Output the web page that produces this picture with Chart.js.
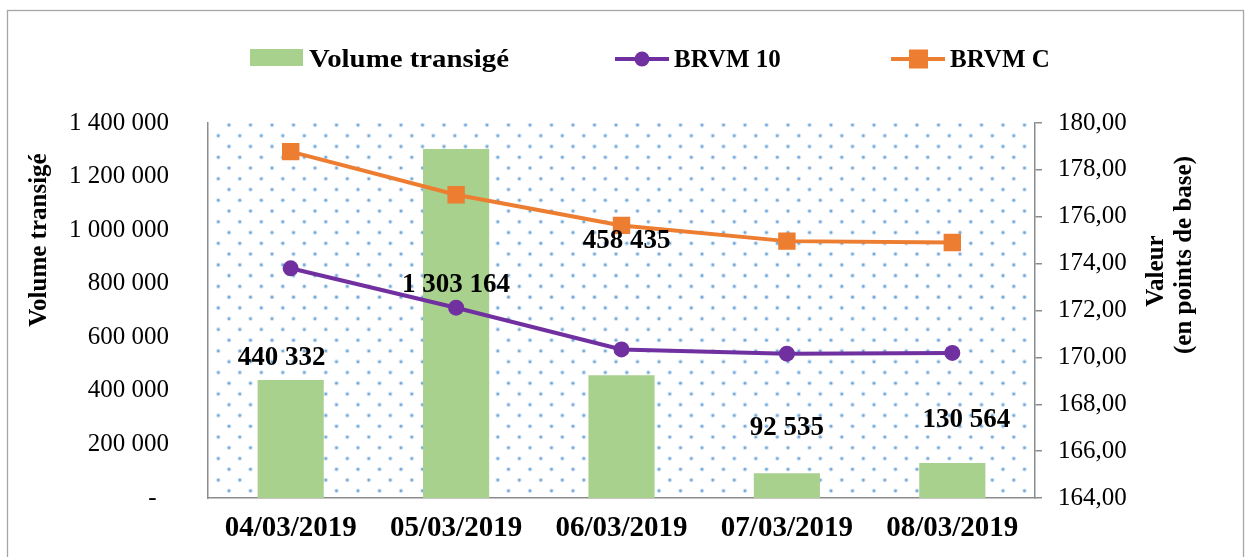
<!DOCTYPE html>
<html lang="fr">
<head>
  <meta charset="UTF-8" />
  <title>Volume transigé et indices BRVM</title>
  <script src="https://cdn.jsdelivr.net/npm/chart.js"></script>
  <style>
    body {
      margin: 0;
      background: #ffffff;
    }
    canvas {
      display: block;
    }
  </style>
</head>
<body>

  <canvas id="brvmChart" width="1245" height="557"></canvas>

  <script>
    // chart data
    const dates = ['04/03/2019', '05/03/2019', '06/03/2019', '07/03/2019', '08/03/2019'];
    const volume = [440332, 1303164, 458435, 92535, 130564];
    const brvm10 = [173.80, 172.12, 170.34, 170.16, 170.19];
    const brvmC = [178.78, 176.94, 175.63, 174.96, 174.90];

    const volumeMin = 0, volumeMax = 1400000, volumeStep = 200000;
    const indexMin = 164, indexMax = 180, indexStep = 2;

    const serif = "'Liberation Serif', 'Times New Roman', serif";
    const axisGrey = '#8c8c8c';

    function spaced(n) {
      return String(n).replace(/\B(?=(\d{3})+(?!\d))/g, ' ');
    }

    // dotted background of the plot area
    const dotsPlugin = {
      id: 'dots',
      beforeDatasetsDraw(chart) {
        const { ctx, chartArea: a } = chart;
        ctx.save();
        ctx.beginPath();
        ctx.rect(a.left, a.top, a.right - a.left, a.bottom - a.top);
        ctx.clip();
        const dy = 10.76, dx = 21.5;
        let row = 0;
        for (let y = a.top + 2; y < a.bottom; y += dy, row++) {
          const start = a.left + (row % 2 === 0 ? 21 : 10.3);
          for (let x = start; x < a.right; x += dx) {
            ctx.fillStyle = 'rgba(91,155,213,0.25)';
            ctx.beginPath();
            ctx.arc(x, y, 2.4, 0, Math.PI * 2);
            ctx.fill();
            ctx.fillStyle = 'rgba(91,155,213,0.8)';
            ctx.beginPath();
            ctx.arc(x, y, 1.3, 0, Math.PI * 2);
            ctx.fill();
          }
        }
        ctx.restore();
      }
    };

    // value labels of the volume bars (placed by hand in the original)
    const barLabelsPlugin = {
      id: 'barLabels',
      afterDatasetsDraw(chart) {
        const { ctx } = chart;
        const nudge = [[-9, -24], [0, 134], [5, -136], [0, -47], [14, -45]];
        const meta = chart.getDatasetMeta(0);
        ctx.save();
        ctx.font = 'bold 27px ' + serif;
        ctx.fillStyle = '#000';
        ctx.textAlign = 'center';
        ctx.textBaseline = 'alphabetic';
        meta.data.forEach((bar, i) => {
          const [ox, oy] = nudge[i];
          ctx.fillText(spaced(volume[i]), bar.x + ox, bar.y + oy + 9);
        });
        ctx.restore();
      }
    };

    // text stretched sideways to a given width (the original font is wider)
    function wideText(ctx, text, x, y, width) {
      const w = ctx.measureText(text).width;
      ctx.save();
      ctx.translate(x, y);
      ctx.scale(width / w, 1);
      ctx.fillText(text, 0, 0);
      ctx.restore();
    }

    // frame, legend and axis titles
    const decorPlugin = {
      id: 'decor',
      afterDraw(chart) {
        const { ctx } = chart;
        const ds = chart.data.datasets;
        ctx.save();

        ctx.strokeStyle = '#a6a6a6';
        ctx.lineWidth = 1.3;
        ctx.strokeRect(7.5, 10.5, 1236, 620);

        // legend
        ctx.font = 'bold 25px ' + serif;
        ctx.fillStyle = '#000';
        ctx.textBaseline = 'alphabetic';
        ctx.textAlign = 'left';
        const ly = 59;

        ctx.fillStyle = ds[0].backgroundColor;
        ctx.fillRect(250, 49, 53, 17);
        ctx.fillStyle = '#000';
        wideText(ctx, ds[0].label, 309, ly + 8, 200);

        ctx.strokeStyle = ds[1].borderColor;
        ctx.lineWidth = 4;
        ctx.beginPath();
        ctx.moveTo(615, ly);
        ctx.lineTo(669, ly);
        ctx.stroke();
        ctx.fillStyle = ds[1].borderColor;
        ctx.beginPath();
        ctx.arc(642, ly, 7.5, 0, Math.PI * 2);
        ctx.fill();
        ctx.fillStyle = '#000';
        ctx.fillText(ds[1].label, 674, ly + 8);

        ctx.strokeStyle = ds[2].borderColor;
        ctx.beginPath();
        ctx.moveTo(891, ly);
        ctx.lineTo(945, ly);
        ctx.stroke();
        ctx.fillStyle = ds[2].borderColor;
        ctx.fillRect(918.5 - 9.5, ly - 9.5, 19, 19);
        ctx.fillStyle = '#000';
        ctx.fillText(ds[2].label, 950, ly + 8);

        // axis titles
        ctx.textAlign = 'center';
        ctx.save();
        ctx.translate(46, 240);
        ctx.rotate(-Math.PI / 2);
        ctx.fillText('Volume transigé', 0, 0);
        ctx.restore();

        ctx.save();
        ctx.translate(1163, 271);
        ctx.rotate(-Math.PI / 2);
        ctx.fillText('Valeur', 0, 0);
        ctx.restore();

        ctx.save();
        ctx.translate(1191, 255);
        ctx.rotate(-Math.PI / 2);
        ctx.fillText('(en points de base)', 0, 0);
        ctx.restore();

        ctx.restore();
      }
    };

    const ctx = document.getElementById('brvmChart').getContext('2d');
    new Chart(ctx, {
      data: {
        labels: dates,
        datasets: [
          {
            type: 'bar',
            label: 'Volume transigé',
            data: volume,
            yAxisID: 'y',
            backgroundColor: '#a9d18e',
            barPercentage: 0.4,
            categoryPercentage: 1.0,
            order: 3
          },
          {
            type: 'line',
            label: 'BRVM 10',
            data: brvm10,
            yAxisID: 'y1',
            borderColor: '#7030a0',
            backgroundColor: '#7030a0',
            borderWidth: 4,
            pointStyle: 'circle',
            pointRadius: 8,
            pointBorderWidth: 0,
            tension: 0,
            order: 2
          },
          {
            type: 'line',
            label: 'BRVM C',
            data: brvmC,
            yAxisID: 'y1',
            borderColor: '#ed7d31',
            backgroundColor: '#ed7d31',
            borderWidth: 4,
            pointStyle: 'rect',
            pointRadius: 12.3,
            pointBorderWidth: 0,
            tension: 0,
            order: 1
          }
        ]
      },
      options: {
        responsive: false,
        animation: false,
        events: [],
        layout: { padding: { top: 123, bottom: 0, left: 0, right: 0 } },
        plugins: {
          legend: { display: false },
          tooltip: { enabled: false }
        },
        scales: {
          x: {
            grid: { display: false, drawTicks: false },
            border: { color: axisGrey, width: 1.5 },
            ticks: {
              color: '#000',
              padding: 13,
              maxRotation: 0,
              autoSkip: false,
              font: { family: serif, size: 29, weight: 'bold' }
            },
            afterFit(scale) { scale.height = 59; }
          },
          y: {
            position: 'left',
            min: volumeMin,
            max: volumeMax,
            grid: { display: false, drawTicks: false },
            border: { color: axisGrey, width: 1.5 },
            ticks: {
              stepSize: volumeStep,
              color: '#000',
              padding: 39,
              font: { family: serif, size: 25 },
              callback: v => v === 0 ? '-  ' : spaced(v)
            },
            afterFit(scale) { scale.width = 208; }
          },
          y1: {
            position: 'right',
            min: indexMin,
            max: indexMax,
            grid: { drawOnChartArea: false, drawTicks: true, tickLength: 7, color: axisGrey, lineWidth: 1.5 },
            border: { color: axisGrey, width: 1.5 },
            ticks: {
              stepSize: indexStep,
              color: '#000',
              padding: 16,
              font: { family: serif, size: 25 },
              callback: v => v.toFixed(2).replace('.', ',')
            },
            afterFit(scale) { scale.width = 210; }
          }
        }
      },
      plugins: [dotsPlugin, barLabelsPlugin, decorPlugin]
    });
  </script>

</body>
</html>
